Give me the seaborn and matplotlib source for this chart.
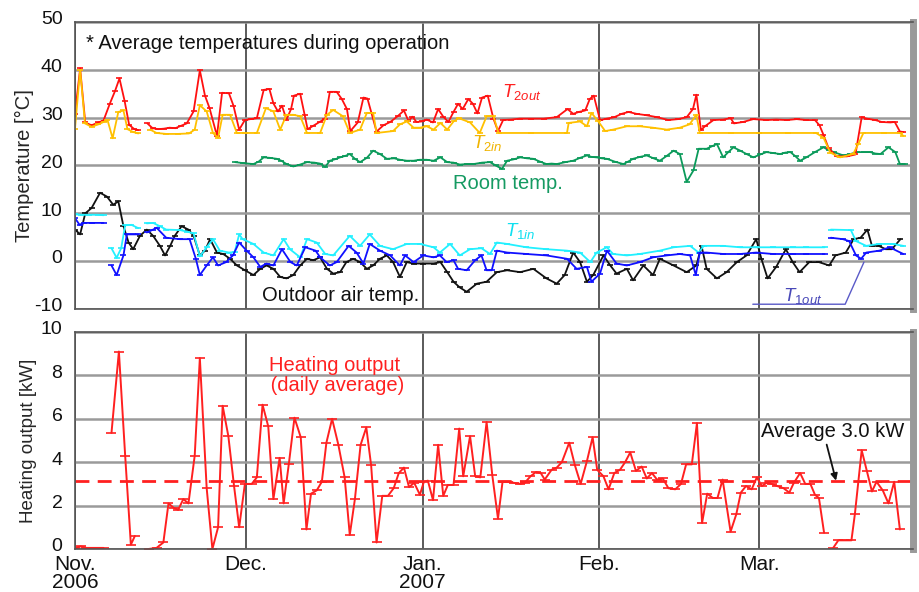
import numpy as np
import pandas as pd
import matplotlib
matplotlib.use("Agg")
import matplotlib.pyplot as plt
import matplotlib.transforms as mtransforms
import seaborn as sns

NaN = np.nan

# ---------------- data (day 0 = 1 Nov 2006) ----------------
month_days = [0, 30, 61, 92, 120]
month_labels = ["Nov.\n2006", "Dec.", "Jan.\n2007", "Feb.", "Mar."]

t2out_day = [0, 0.9, 1.8, 2.9, 4.1, 5.0, 6.1, 7.0, 7.8, 8.7, 9.5, 10.4, 11.1, NaN,
             12.7, 13.6, 14.6, 15.6, 16.6, 17.6, 18.6, 19.6, 20.8, 21.9, 22.8, 23.6, 24.9, 25.8, 27.0, 27.8,
             28.8, 29.8, 30.8, 31.9, 33.1, 34.1, 34.8, 35.6, 36.3, 37.1, 37.9, 38.4, 39.5, 40.3, 40.8, 41.8,
             42.9, 43.9, 44.7, 45.9, 46.8, 47.7, 48.3, 49.6, 50.6, 51.3, 52.0, 52.9, 54.1, 55.3, 56.6, 57.7,
             58.5, 59.2, 59.9, 60.8, 61.7, 62.8, 63.7, 64.6, 65.5, 66.4, 67.2, 68.0, 69.0, 69.8, 70.6, 71.4,
             72.4, 73.4, 74.2, 75.1, 76.5, 78.0, 80.0, 82.2, 84.5, 86.4, 87.4, 88.4, 89.5, 90.3, 91.0, 92.1,
             93.3, 94.6, 95.9, 97.1, 98.5, 100.3, 102.1, 104.1, 105.8, 107.3, 108.4, 109.0, 109.8, 110.5,
             112.0, 113.7, 115.0, 115.6, 117.2, 119.0, 121.3, 123.0, 124.9, 126.6, 128.3, 129.8, 130.6,
             131.3, 132.2, 133.6, 135.4, 136.9, 138.0, 138.9, 140.4, 141.5, 143.0, 143.8, 144.7, 145.3]
t2out_val = [30.8, 40.3, 29.0, 28.4, 29.0, 29.4, 32.9, 35.5, 38.2, 33.5, 28.5, 27.6, 27.4, NaN,
             28.8, 27.8, 27.6, 27.7, 27.9, 27.8, 28.3, 28.8, 31.3, 39.9, 34.6, 32.0, 26.2, 35.2, 35.1, 32.5,
             27.5, 29.5, 29.7, 29.9, 35.8, 36.0, 33.0, 31.3, 32.5, 29.6, 31.8, 34.6, 35.0, 30.5, 27.6, 28.3,
             29.1, 29.8, 35.4, 35.4, 33.9, 31.8, 27.2, 29.0, 34.2, 34.0, 31.0, 27.1, 28.4, 29.1, 30.3, 31.5,
             29.3, 30.2, 29.1, 29.2, 29.6, 29.0, 31.8, 30.2, 29.1, 31.2, 32.9, 31.8, 33.9, 32.9, 30.9, 34.2,
             34.6, 29.8, 27.2, 29.5, 29.6, 29.8, 29.8, 29.8, 30.1, 31.8, 30.8, 31.2, 31.5, 33.9, 34.6, 29.5,
             29.8, 30.1, 30.8, 31.2, 30.8, 30.5, 30.1, 29.5, 29.7, 30.1, 31.8, 34.8, 27.4, 28.2,
             29.5, 29.6, 29.9, 28.8, 29.1, 29.7, 29.5, 29.6, 29.5, 29.7, 29.5, 29.5, 28.4,
             26.4, 23.6, 21.9, 21.9, 22.3, 30.1, 29.8, 29.5, 29.1, 29.0, 29.1, 27.1, 27.0]

t2in_day = [0, 0.9, 1.75, 2.9, 4.1, 5.0, 5.7, 6.6, 7.6, 8.5, 9.2, 10.2, 11.1, NaN,
            13.2, 14.3, 16.0, 18.0, 20.0, 21.0, 21.9, 23.1, 24.2, 25.1, 25.9, 27.2, 28.4, 29.8, 31.9, 33.5,
            34.8, 36.0, 37.1, 38.3, 39.5, 40.7, 43.0, 44.2, 45.3, 47.0, 48.2, 50.0, 51.2, 52.3, 52.9, 55.8,
            57.0, 58.2, 59.4, 60.5, 61.7, 62.9, 64.1, 65.3, 66.4, 67.3, 69.3, 71.0, 72.2, 73.4, 74.3, 80.0,
            86.3, 86.6, 88.6, 89.8, 90.6, 91.8, 93.0, 94.4, 96.8, 99.1, 101.4, 103.8, 106.1, 107.8, 109.0,
            109.6, 115.0, 120.0, 125.0, 130.0, 131.3, 132.5, 134.2, 136.5, 137.4, 138.3, 142.0, 144.7, 145.3]
t2in_val = [27.7, 40.0, 28.8, 28.1, 28.6, 29.1, 29.5, 25.7, 31.2, 31.5, 27.6, 27.0, 26.7, NaN,
            27.5, 26.8, 26.6, 26.6, 26.7, 27.5, 32.6, 31.3, 26.8, 25.8, 30.6, 30.6, 26.8, 26.8, 26.8, 32.0,
            31.3, 27.5, 30.6, 30.6, 30.3, 26.8, 26.8, 30.6, 31.6, 30.3, 26.8, 27.5, 31.0, 31.0, 26.8, 27.2,
            28.6, 29.2, 27.9, 27.9, 28.2, 27.5, 28.9, 27.5, 29.2, 29.9, 29.0, 26.8, 30.3, 30.3, 26.8, 26.8,
            26.8, 28.9, 29.2, 28.2, 31.0, 29.2, 27.2, 27.5, 28.2, 28.2, 27.9, 27.5, 27.9, 28.6, 30.6,
            26.8, 26.8, 26.8, 26.8, 26.8, 25.8, 22.7, 21.7, 22.4, 24.5, 26.8, 26.8, 26.8, 26.2]

room_day = [28.1, 29.5, 31.3, 32.2, 33.1, 34.2, 35.4, 36.2, 37.1, 38.3, 39.5, 40.7, 42.0, 43.0, 43.9, 44.7,
            45.6, 46.5, 47.4, 48.2, 49.1, 50.0, 51.2, 52.3, 53.5, 54.7, 56.0, 57.0, 58.2, 59.4, 60.5, 61.7,
            62.9, 64.1, 65.3, 66.4, 67.5, 68.7, 69.9, 71.4, 72.8, 73.8, 74.9, 75.8, 77.0, 78.1, 79.3, 80.4,
            81.6, 82.7, 83.6, 84.5, 86.0, 87.4, 88.6, 89.8, 90.6, 91.5, 92.4, 93.3, 94.7, 96.2, 97.0, 97.9,
            99.1, 100.3, 101.5, 102.6, 103.8, 105.0, 106.1, 107.3, 108.5, 109.4, 110.8, 111.7, 112.6, 113.7,
            114.6, 115.5, 116.7, 117.8, 119.0, 120.2, 121.3, 122.5, 123.7, 124.6, 125.5, 126.4, 127.2, 128.3,
            129.8, 131.3, 132.2, 133.1, 134.8, 136.0, 137.2, 138.4, 139.5, 140.4, 141.3, 142.7, 143.9, 144.7,
            145.6]
room_val = [20.7, 20.5, 20.3, 20.8, 21.7, 21.6, 21.4, 21.0, 20.3, 19.8, 20.2, 20.7, 20.6, 20.4, 19.7, 21.0,
            21.3, 21.7, 22.0, 22.4, 21.4, 20.7, 21.6, 23.1, 22.4, 21.4, 21.5, 21.2, 21.0, 21.0, 21.2, 21.2,
            21.0, 21.7, 20.7, 20.6, 20.2, 20.3, 20.3, 20.6, 20.7, 20.0, 19.3, 21.0, 21.3, 21.7, 21.5, 21.4,
            20.8, 20.3, 20.4, 20.3, 20.7, 21.0, 21.6, 22.1, 21.8, 21.7, 21.5, 21.4, 20.8, 20.3, 20.8, 21.4,
            21.8, 22.1, 21.5, 21.0, 22.0, 23.1, 22.4, 16.6, 19.0, 23.5, 23.5, 24.0, 24.5, 21.7,
            22.8, 23.8, 23.1, 22.4, 21.7, 22.3, 22.8, 22.6, 22.4, 22.7, 22.8, 21.9, 21.0, 21.7,
            22.8, 23.8, 23.2, 22.8, 22.1, 22.4, 22.8, 22.8, 22.8, 22.5, 22.4, 23.8, 22.8, 20.3,
            20.3]

outdoor_day = [0, 0.9, 1.8, 2.9, 4.4, 5.6, 6.7, 7.6, 8.5, 9.4, 10.2, 11.4, 12.6, 13.7, 14.9, 15.8, 16.7,
               17.5, 18.7, 19.9, 20.8, 21.9, 22.8, 23.7, 24.9, 26.0, 27.2, 28.4, 29.8, 31.3, 32.5, 33.6,
               34.8, 36.0, 37.1, 38.3, 39.5, 40.7, 41.8, 43.0, 44.2, 45.3, 46.5, 47.6, 48.8, 50.0, 51.2,
               52.3, 53.5, 54.7, 55.8, 57.0, 58.2, 59.4, 61.1, 62.9, 64.1, 65.3, 66.4, 67.5, 68.7, 70.5,
               72.2, 74.0, 75.8, 78.1, 80.4, 82.7, 84.5, 85.9, 87.4, 88.6, 89.8, 90.9, 92.7, 93.9, 95.0,
               96.8, 97.9, 99.7, 101.4, 102.6, 105.0, 107.3, 109.0, 109.9, 110.8, 112.6, 114.3, 116.1,
               117.8, 119.5, 120.4, 121.5, 123.0, 124.7, 125.9, 127.1, 128.8, 130.5, 132.3, 133.4, 135.2,
               136.6, 137.8, 139.0, 139.8, 141.0, 142.2, 143.3, 144.8]
outdoor_val = [6.6, 5.6, 10.0, 11.1, 14.3, 13.5, 11.8, 12.5, 7.3, 3.9, 2.5, 5.3, 6.6, 5.3, 3.2, 1.2, 3.2,
               5.3, 7.3, 6.6, 5.3, 1.2, 2.2, 4.6, 1.8, 1.5, 0.5, -0.9, -1.9, -2.9, -1.6, -0.9,
               -1.6, -3.3, -3.6, -2.9, -0.9, 0.5, 0.2, 0.8, -1.6, -2.6, -2.3, -0.2, 0.5, -0.2, -1.6,
               -0.9, 0.5, 1.2, -0.2, -3.3, -0.2, -0.5, -0.5, -0.5, -0.2, -2.3, -4.3, -5.5, -6.4, -4.7,
               -4.3, -2.3, -1.9, -2.3, -1.6, -3.6, -4.7, -2.9, 1.8, -0.2, -4.3, -2.9, 1.2, -0.9, -2.6,
               -1.6, -4.0, -0.9, -2.9, 0.5, -0.9, -2.3, -0.9, 3.2, -1.6, -3.6, -2.3, -0.2,
               1.2, 4.6, 0.5, -3.6, -1.2, 2.5, -0.2, -2.3, -0.2, -0.2, -0.9, 1.2, 1.8,
               4.6, 4.9, 6.6, 3.2, 3.2, 2.5, 2.5, 4.6]

t1in_day = [0, 1.0, 2.5, 4.0, 5.0, NaN,
            6.4, 7.3, 8.1, 8.8, 9.9, 11.1, NaN,
            12.6, 13.7, 14.9, 16.0, 18.4, 19.6, 20.8, 21.9, 23.1, 24.2, 25.4, 27.0, 28.0, 28.8, 29.4, 31.3,
            33.1, 34.8, 36.6, 37.7, 39.5, 40.7, 42.4, 43.9, 45.3, 48.2, 50.0, 51.7, 53.5, 55.8, 58.2, 60.5,
            62.9, 64.0, 65.8, 67.5, 69.3, 71.3, 72.8, 74.0, 75.8, 79.2, 82.7, 86.3, 88.6, 90.4, 91.5, 93.3,
            94.4, 96.8, 99.1, 102.6, 105.0, 107.9, 109.4, 110.3, 113.7, 116.7, 119.5, 122.4, 125.9, 128.3,
            131.5, NaN,
            132.6, 136.1, 137.0, 138.8, 141.1, 143.5, 145.3]
t1in_val = [9.8, 9.7, 9.7, 9.7, 9.6, NaN,
            2.7, 0.7, 2.7, 7.5, 7.6, 6.9, NaN,
            7.9, 8.0, 7.3, 6.6, 6.5, 6.2, 5.8, 1.0, 2.9, 4.6, 2.2, 1.8, 1.9, 5.6, 4.6, 3.6,
            1.8, 1.2, 4.6, 2.5, 0.8, 4.6, 3.9, 1.5, 1.2, 5.3, 3.2, 5.6, 3.2, 2.5, 3.6, 3.6,
            2.9, 1.8, 3.6, 1.2, 2.5, 2.7, 1.5, 3.9, 3.6, 2.9, 2.5, 2.2, 1.8, -0.2, 1.8, 2.9,
            1.5, 1.2, 1.5, 2.2, 2.9, 3.2, 1.8, 3.2, 3.2, 2.9, 2.9, 2.9, 2.9, 2.9,
            2.9, NaN,
            6.6, 6.5, 4.2, 3.2, 3.6, 3.6, 3.2]

t1out_day = [0, 0.8, 1.5, 3.0, 5.0, NaN,
             6.4, 7.3, 8.5, 9.1, 10.2, 11.1, NaN,
             12.6, 13.7, 14.3, 16.0, 18.4, 20.1, 21.2, 21.9, 23.1, 24.2, 25.1, 26.5, 27.7, 28.8, 30.1, 31.3,
             32.5, 33.6, 34.8, 36.3, 37.8, 38.9, 40.4, 42.2, 43.0, 44.7, 45.9, 48.0, 49.4, 50.6, 51.7, 53.5,
             55.3, 57.0, 57.9, 59.4, 61.1, 62.9, 64.0, 65.2, 66.4, 67.2, 68.7, 70.2, 71.3, 72.2, 73.1, 74.0,
             75.8, 79.2, 82.7, 86.3, 88.0, 89.8, 90.6, 92.1, 93.3, 95.0, 96.8, 99.1, 101.4, 103.8, 106.1,
             107.9, 108.9, 109.6, 110.8, 113.7, 116.7, 119.5, 122.4, 125.9, 128.3, 131.5, NaN,
             132.6, 134.7, 135.8, 137.0, 137.9, 138.8, 141.1, 142.9, 145.3]
t1out_val = [9.0, 7.6, 8.0, 8.0, 8.0, NaN,
             -0.9, -2.9, 1.2, 5.6, 5.6, 5.6, NaN,
             6.0, 6.6, 7.0, 4.9, 4.6, 4.6, 0.5, -2.9, -0.9, 0.8, -0.9, -0.2, 1.2, 3.9, 2.2, 0.8,
             -1.2, -0.5, -0.9, 2.5, -0.2, -0.9, 2.9, 2.2, 0.8, -0.9, -0.2, 3.2, 1.8, -0.5, 3.6, 2.2,
             1.2, -0.9, 1.2, -0.2, 1.2, 0.8, 1.2, -0.2, 0.2, -1.6, -1.9, 0.2, 1.2, -1.9, -1.9, 2.2,
             1.8, 1.5, 1.2, 0.5, -1.6, -1.2, -4.3, -2.6, 2.2, -0.5, -0.9, -0.2, 0.8, 1.2, 1.5,
             1.2, -2.9, 1.8, 1.8, 1.5, 1.5, 1.8, 1.5, 1.5, 1.5, 1.5, NaN,
             4.9, 4.6, 4.2, 1.2, 0.5, 1.8, 2.2, 2.9, 1.5]

heat_day = [0, 1, 2, 3, 4, 5, NaN,
            6.4, 7.7, 8.8, 9.8, 10.5, NaN,
            12.9, 14.3, 15.5, 16.4, 17.3, 18.1, 19.0, 19.9, 21.0, 21.9, 23.1, 24.1, 25.1, 25.9, 26.9, 27.9,
            28.8, 29.8, 31.0, 31.9, 32.9, 33.9, 34.8, 35.9, 36.6, 37.5, 38.5, 39.6, 40.6, 41.4, 42.4, 43.3,
            44.1, 45.1, 46.2, 47.3, 48.2, 49.1, 50.1, 51.1, 51.95, 52.9, 53.9, 54.9, 55.9, 56.8, 57.7, 58.6,
            59.5, 60.5, 61.2, 61.9, 62.8, 63.7, 64.6, 65.4, 66.4, 67.4, 68.1, 69.3, 70.2, 71.1, 72.2, 73.2,
            74.2, 75.0, 76.0, 77.0, 78.1, 78.9, 79.9, 80.9, 81.7, 82.4, 83.6, 84.5, 85.4, 86.7, 87.7, 88.7,
            89.8, 90.8, 91.6, 92.7, 93.6, 94.6, 95.6, 96.5, 97.4, 98.4, 99.4, 100.3, 101.2, 102.1, 103.1,
            104.1, 105.3, 106.3, 107.2, 108.2, 109.1, 110.0, 110.9, 111.9, 112.7, 113.6, 115.0, 116.0,
            116.8, 117.7, 118.7, 119.6, 120.5, 121.3, 122.2, 123.2, 124.3, 125.3, 126.1, 127.2, 128.1,
            129.0, 129.8, 130.5, 131.4, NaN,
            133.0, 133.9, 134.9, 136.2, 136.8, 138.0, 138.9, 139.8, 140.6, 141.7, 142.7, 143.7, 144.7]
heat_val = [0.05, 0.12, 0.05, 0.05, 0.05, 0.05, NaN,
            5.35, 9.1, 4.3, 0.2, 0.6, NaN,
            0.0, 0.05, 0.3, 2.1, 1.9, 1.8, 2.3, 2.1, 4.3, 8.8, 2.8, 0.0, 1.0, 6.6, 5.2, 2.9,
            1.0, 3.0, 3.0, 3.3, 6.65, 5.65, 2.3, 4.2, 2.1, 3.9, 6.05, 5.15, 0.9, 2.55, 2.7, 3.1,
            4.9, 6.0, 4.8, 3.3, 0.65, 2.3, 4.8, 5.6, 3.85, 0.3, 2.45, 2.45, 2.8, 3.5, 3.75, 2.85,
            3.05, 2.5, 3.1, 3.15, 2.25, 4.8, 2.45, 2.95, 2.95, 5.55, 3.35, 5.2, 3.35, 3.3, 5.85, 3.4,
            1.4, 3.1, 3.1, 3.05, 3.0, 3.05, 3.35, 3.55, 3.5, 3.2, 3.65, 3.75, 4.0, 4.9, 3.85, 3.0,
            4.05, 5.15, 3.65, 3.35, 2.75, 3.5, 3.65, 4.0, 4.45, 3.6, 3.8, 3.25, 3.5, 3.2, 3.25,
            2.8, 2.75, 3.0, 3.9, 3.9, 5.8, 1.2, 2.55, 2.35, 2.35, 3.2, 0.8, 1.6,
            2.6, 2.9, 2.75, 3.3, 2.9, 3.05, 3.0, 2.9, 2.8, 2.6, 3.05, 3.5, 3.0,
            3.0, 2.5, 2.35, 0.75, NaN,
            0.05, 0.4, 0.4, 0.4, 1.6, 4.55, 3.6, 2.65, 3.1, 2.7, 2.1, 3.1, 0.9]

heat_average = 3.15   # drawn position of the "Average 3.0 kW" line

# ---------------- style ----------------
sns.set_style("white")
plt.rcParams["font.family"] = ["Liberation Sans", "DejaVu Sans"]
plt.rcParams["mathtext.fontset"] = "custom"
plt.rcParams["mathtext.it"] = "Liberation Sans:italic"
plt.rcParams["mathtext.rm"] = "Liberation Sans"
plt.rcParams["axes.unicode_minus"] = False


def to_frame(days, vals):
    d = np.asarray(days, dtype=float)
    v = np.asarray(vals, dtype=float)
    seg = np.cumsum(np.isnan(d))
    df = pd.DataFrame({"day": d, "value": v, "seg": seg})
    return df.dropna()


def draw(ax, days, vals, color, ms=5, lw=1.3):
    df = to_frame(days, vals)
    sns.lineplot(data=df, x="day", y="value", units="seg", estimator=None, sort=False,
                 color=color, lw=lw, marker="_", markersize=ms,
                 markeredgecolor=color, markeredgewidth=1.2, ax=ax, legend=False)


fig = plt.figure(figsize=(9.19, 5.92), dpi=100)
ax1 = fig.add_axes([75 / 919, 1 - 309 / 592, 838 / 919, 287 / 592])
ax2 = fig.add_axes([75 / 919, 1 - 549 / 592, 838 / 919, 217 / 592])

C_RED = "#ff1010"
C_ORANGE = "#ffc000"
C_GREEN = "#0a9a5a"
C_CYAN = "#22f0ff"
C_BLUE = "#1010ff"
C_BLACK = "#111111"

draw(ax1, room_day, room_val, C_GREEN)
draw(ax1, outdoor_day, outdoor_val, C_BLACK)
draw(ax1, t1in_day, t1in_val, C_CYAN)
draw(ax1, t1out_day, t1out_val, C_BLUE)
draw(ax1, t2out_day, t2out_val, C_RED)
draw(ax1, t2in_day, t2in_val, C_ORANGE)

draw(ax2, heat_day, heat_val, "#ff2020", ms=7, lw=1.4)
ax2.axhline(heat_average, color="#ff2020", lw=2, ls=(0, (5, 3)), zorder=1.5)

shift_up = mtransforms.ScaledTranslation(0, 3 / 72, fig.dpi_scale_trans)
for ax, lo, hi, step in [(ax1, -10, 50, 10), (ax2, 0, 10, 2)]:
    ax.set_xlim(0, 147)
    ax.set_ylim(lo, hi)
    ax.set_yticks(np.arange(lo, hi + 1, step))
    ax.set_xticks(month_days)
    ax.set_axisbelow(True)
    ax.grid(axis="y", color="#9a9a9a", lw=1.8)
    ax.grid(axis="x", color="#5a5a5a", lw=1.4)
    ax.tick_params(axis="both", length=0, colors="#111111")
    ax.tick_params(axis="y", pad=9, labelsize=14)
    ax.tick_params(axis="x", pad=4, labelsize=15)
    for lab in ax.get_yticklabels():
        lab.set_transform(lab.get_transform() + shift_up)
    for s in ["left", "top", "bottom"]:
        ax.spines[s].set_color("#555555")
        ax.spines[s].set_linewidth(1.2)
    ax.spines["right"].set_color("#9a9a9a")
    ax.spines["right"].set_linewidth(5)
    ax.set_xlabel("")

ax1.set_xticklabels([])
ax2.set_xticklabels(month_labels, fontsize=15, linespacing=0.95)
ax1.set_ylabel("Temperature [°C]", fontsize=14.5, labelpad=0)
ax2.set_ylabel("Heating output [kW]", fontsize=13.5, labelpad=3)

# ---------------- annotations ----------------
fs = 14.5
ax1.text(2.0, 45.6, "* Average temperatures during operation", fontsize=fs, va="center", color="#111111")
ax1.text(74.9, 35.4, r"$\mathit{T_{2out}}$", fontsize=13.5, color="#ff2020", va="center")
ax1.text(69.6, 24.7, r"$\mathit{T_{2in}}$", fontsize=13.5, color="#f0b400", va="center")
ax1.text(66.3, 16.3, "Room temp.", fontsize=fs, color="#159a62", va="center")
ax1.text(75.4, 6.3, r"$\mathit{T_{1in}}$", fontsize=13.5, color="#10e0f0", va="center")
ax1.text(32.8, -7.2, "Outdoor air temp.", fontsize=fs, color="#111111", va="center")
ax1.text(124.2, -7.3, r"$\mathit{T_{1out}}$", fontsize=13.5, color="#4848b8", va="center")
ax1.plot([118.9, 135.1, 138.4], [-9.0, -9.0, -0.2], color="#5a5ac8", lw=1.0)

ax2.text(45.5, 8.0, "Heating output\n (daily average)", fontsize=fs, color="#ff2020",
         ha="center", va="center", linespacing=1.1)
ax2.annotate("Average 3.0 kW", xy=(133.5, heat_average), xytext=(120.4, 5.4),
             fontsize=fs, color="#111111", va="center", ha="left",
             arrowprops=dict(arrowstyle="-|>", color="#111111", lw=1.3,
                             shrinkA=0, shrinkB=0, mutation_scale=10,
                             relpos=(0.45, 0.0)))

fig.savefig("out.png", dpi=100)
